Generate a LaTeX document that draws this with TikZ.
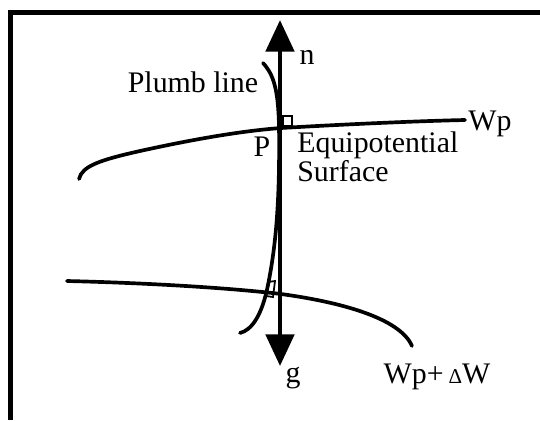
\documentclass[tikz,border=0pt]{standalone}
\usepackage{fontspec}
\setmainfont{Liberation Serif}
\usetikzlibrary{arrows.meta}

\begin{document}
\begin{tikzpicture}[x=0.02cm,y=-0.02cm,font=\fontsize{17}{16.5}\selectfont,
  curve/.style={line width=2.1pt,line cap=round},
  axisline/.style={line width=2.6pt,{Triangle[length=18pt,width=16pt]}-{Triangle[length=18pt,width=16pt]}},
  rightmark/.style={line width=1pt}]
\useasboundingbox (0,0) rectangle (540,420);
\draw[line width=2.8pt] (10.5,420) -- (10.5,12.5) -- (540,12.5);
\coordinate (gtip) at (280,366);
\coordinate (ntip) at (280,20);
\draw[curve] (79,179) .. controls (82,166) and (100,160) .. (140,151)
  .. controls (190,140) and (240,131) .. (281,128)
  .. controls (350,124) and (420,121) .. (465,120);
\draw[curve] (67,281) .. controls (150,283) and (230,288) .. (281,294)
  .. controls (340,302) and (400,318) .. (412,346);
\draw[curve] (263,63) .. controls (274,75) and (278,90) .. (279,125)
  .. controls (280,200) and (276,245) .. (268,285)
  .. controls (262,315) and (252,330) .. (240,333);
\draw[axisline] (gtip) -- (ntip);
\draw[rightmark] (283,126) rectangle (292,116);
\draw[rightmark] (268,282) -- (275,281) -- (273,297) -- (266,296) -- cycle;
\node (n) at (307,57) {n};
\node (plumb) at (193,82) {Plumb line};
\node (P) at (262,147) {P};
\node[anchor=north west,align=left,inner sep=0pt] (equi) at (297,131) {Equipotential\\Surface};
\node (Wp) at (490,124) {Wp};
\node (g) at (293,378) {g};
\node (WpdW) at (437,377) {Wp+\,{\fontsize{12}{12}\selectfont Δ}W};
\end{tikzpicture}
\end{document}
